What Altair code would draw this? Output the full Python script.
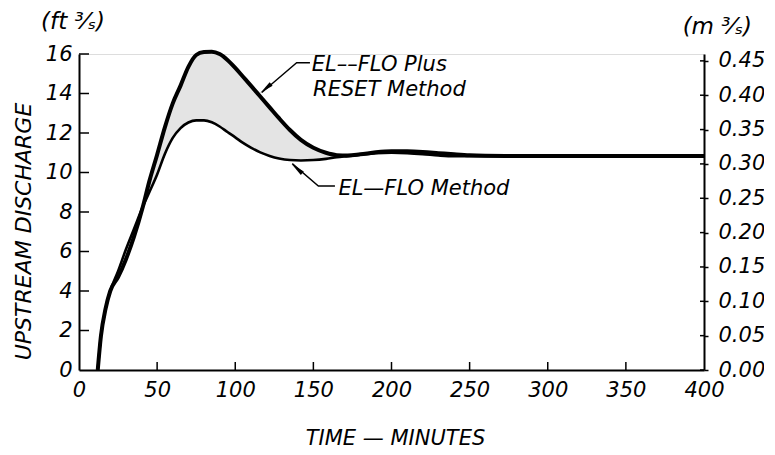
import altair as alt
import pandas as pd

# ---------------- data ----------------
t_min = [12, 14, 17, 20, 25, 30, 35, 41, 45, 50, 55, 60, 65, 70, 75, 80, 85, 90, 95,
         100, 105, 110, 116, 122, 128, 135, 142, 150, 158, 165, 172, 180, 190, 200,
         210, 220, 230, 240, 250, 260, 280, 300, 350, 400]
q_reset = [0.0, 1.7, 3.1, 4.0, 4.7, 5.6, 6.7, 8.3, 9.55, 10.9, 12.3, 13.5, 14.4, 15.35,
           15.95, 16.1, 16.12, 16.0, 15.7, 15.3, 14.85, 14.4, 13.85, 13.3, 12.75, 12.15,
           11.65, 11.25, 11.0, 10.88, 10.86, 10.92, 11.02, 11.07, 11.07, 11.04, 10.98,
           10.92, 10.87, 10.85, 10.84, 10.84, 10.83, 10.83]
q_elflo = [0.0, 1.7, 3.1, 4.0, 5.0, 6.1, 7.1, 8.3, 9.0, 9.9, 10.95, 11.75, 12.25, 12.53,
           12.64, 12.64, 12.54, 12.33, 12.05, 11.78, 11.5, 11.26, 11.02, 10.84, 10.71,
           10.63, 10.61, 10.63, 10.69, 10.77, 10.83, 10.9, 10.98, 11.0, 10.98, 10.93,
           10.86, 10.82, 10.82, 10.83, 10.83, 10.83, 10.8, 10.8]

x_ticks = [0, 50, 100, 150, 200, 250, 300, 350, 400]
x_inner_ticks = [50, 100, 150, 200, 250, 300, 350]
y_ticks = [0, 2, 4, 6, 8, 10, 12, 14, 16]
y_inner_ticks = [2, 4, 6, 8, 10, 12, 14, 16]
m3_ticks = [0.00, 0.05, 0.10, 0.15, 0.20, 0.25, 0.30, 0.35, 0.40, 0.45]

label_text = ["EL––FLO Plus", "RESET Method", "EL—FLO Method"]
label_t = [149.0, 149.8, 166.0]
label_q = [15.15, 13.87, 8.86]

unit_text = ["(ft ³⁄ₛ)", "(m ³⁄ₛ)"]
unit_t = [-3.8, 408.5]
unit_q = [17.62, 17.35]

leader_seg = ["plus", "plus", "plus", "method", "method", "method"]
leader_t = [147.8, 139.3, 117.0, 163.8, 153.2, 136.5]
leader_q = [15.56, 15.56, 14.05, 9.32, 9.32, 10.45]

arrow_plus_t = [119.5]
arrow_plus_q = [14.25]
arrow_method_t = [139.5]
arrow_method_q = [10.2]

# ---------------- tables ----------------
shade = pd.DataFrame({
    "t": t_min,
    "Q": [r if r > e else e for r, e in zip(q_reset, q_elflo)],
    "Q2": q_elflo,
})
reset_df = pd.DataFrame({"t": t_min, "Q": q_reset})
elflo_df = pd.DataFrame({"t": t_min, "Q": q_elflo})
labels_df = pd.DataFrame({"t": label_t, "Q": label_q, "txt": label_text})
units_df = pd.DataFrame({"t": unit_t, "Q": unit_q, "txt": unit_text})
leader_df = pd.DataFrame({"t": leader_t, "Q": leader_q, "seg": leader_seg,
                          "order": list(range(len(leader_t)))})
arrow_plus_df = pd.DataFrame({"t": arrow_plus_t, "Q": arrow_plus_q})
arrow_method_df = pd.DataFrame({"t": arrow_method_t, "Q": arrow_method_q})
xt_df = pd.DataFrame({"t": x_inner_ticks})
yt_df = pd.DataFrame({"Q": y_inner_ticks})
m3_df = pd.DataFrame({"v": m3_ticks})

FONT = "DejaVu Sans"
W, H = 625, 316

xscale = alt.Scale(domain=[0, 400], nice=False, zero=False)
yscale = alt.Scale(domain=[0, 16], nice=False)

xaxis = alt.Axis(values=x_ticks, title="TIME — MINUTES", ticks=False, grid=False,
                 labelPadding=9, labelFlush=False, labelOverlap=False,
                 domainColor="black", domainWidth=2,
                 labelFont=FONT, labelFontSize=21, labelFontStyle="italic", labelColor="black",
                 titleFont=FONT, titleFontSize=21, titleFontStyle="italic",
                 titleFontWeight="normal", titleColor="black",
                 titleX=316, titleY=68, titleAlign="center", titleBaseline="middle")
yaxis = alt.Axis(values=y_ticks, title="UPSTREAM DISCHARGE", ticks=False, grid=False,
                 labelPadding=7, labelFlush=False, labelOverlap=False,
                 domainColor="black", domainWidth=2,
                 labelFont=FONT, labelFontSize=21, labelFontStyle="italic", labelColor="black",
                 titleFont=FONT, titleFontSize=22, titleFontStyle="italic",
                 titleFontWeight="normal", titleColor="black",
                 titleX=-56, titleY=177, titleAngle=270, titleAlign="center",
                 titleBaseline="middle")


def X(field="t"):
    return alt.X(f"{field}:Q", scale=xscale, axis=xaxis)


def Y(field="Q"):
    return alt.Y(f"{field}:Q", scale=yscale, axis=yaxis)


area = alt.Chart(shade).mark_area(color="#e4e4e4", interpolate="monotone").encode(
    x=X(), y=Y(), y2="Q2:Q")
thin = alt.Chart(elflo_df).mark_line(color="black", strokeWidth=2.6,
                                     interpolate="monotone").encode(x=X(), y=Y())
thick = alt.Chart(reset_df).mark_line(color="black", strokeWidth=4,
                                      interpolate="monotone").encode(x=X(), y=Y())
xt = alt.Chart(xt_df).mark_rule(color="black", strokeWidth=1.5).encode(
    x=X(), y=alt.value(H), y2=alt.value(H - 8))
yt = alt.Chart(yt_df).mark_rule(color="black", strokeWidth=1.5).encode(
    y=Y(), x=alt.value(0), x2=alt.value(10))
leaders = alt.Chart(leader_df).mark_line(color="black", strokeWidth=1.4).encode(
    x=X(), y=Y(), detail="seg:N", order="order:Q")
ARROW = "M0,-1L0.32,1L-0.32,1Z"
arr1 = alt.Chart(arrow_plus_df).mark_point(shape=ARROW, filled=True, color="black",
                                           opacity=1, size=200, angle=230).encode(x=X(), y=Y())
arr2 = alt.Chart(arrow_method_df).mark_point(shape=ARROW, filled=True, color="black",
                                             opacity=1, size=200, angle=311).encode(x=X(), y=Y())
texts = alt.Chart(labels_df).mark_text(align="left", baseline="alphabetic", font=FONT,
                                       fontSize=21, fontStyle="italic", color="black").encode(
    x=X(), y=Y(), text="txt:N")
units = alt.Chart(units_df).mark_text(align="center", baseline="middle", font=FONT,
                                      fontSize=23, fontStyle="italic", color="black").encode(
    x=X(), y=Y(), text="txt:N")

left = alt.layer(area, thin, thick, xt, yt, leaders, arr1, arr2, texts, units)

right = alt.Chart(m3_df).mark_rule(color="black", strokeWidth=1.5).encode(
    y=alt.Y("v:Q", scale=alt.Scale(domain=[0, 0.46], nice=False),
            axis=alt.Axis(orient="right", values=m3_ticks, format=".2f", grid=False,
                          tickSize=4, tickWidth=1.5, tickColor="black",
                          labelPadding=10, labelFlush=False, labelOverlap=False,
                          domainColor="black", domainWidth=2,
                          labelFont=FONT, labelFontSize=21, labelFontStyle="italic",
                          labelColor="black", title=None)),
    x=alt.value(W - 4), x2=alt.value(W))

chart = alt.layer(left, right).resolve_scale(y="independent").properties(
    width=W, height=H,
    padding={"left": 71, "top": 46, "right": 60, "bottom": 85},
    autosize=alt.AutoSizeParams(type="none"),
).configure_view(stroke=None).configure(background="white")

chart.save("out.html", embed_options={"renderer": "svg", "actions": False})
